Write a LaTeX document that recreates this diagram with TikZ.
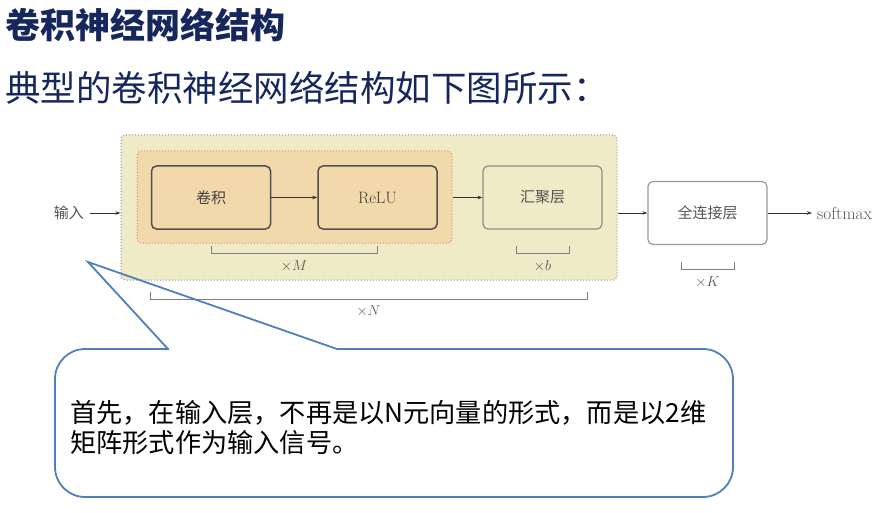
\documentclass[tikz,border=0pt]{standalone}
\usepackage{fontspec}
\newfontfamily\cjk{Noto Sans CJK SC}
\usetikzlibrary{arrows.meta}
\definecolor{navy}{HTML}{16275E}
\definecolor{outerfill}{HTML}{EFEBC6}
\definecolor{outerline}{HTML}{8C90A2}
\definecolor{innerfill}{HTML}{F2D9AB}
\definecolor{innerline}{HTML}{E8866A}
\definecolor{darkline}{HTML}{505050}
\definecolor{midline}{HTML}{8E8E8E}
\definecolor{labelgray}{HTML}{555555}
\definecolor{calloutblue}{HTML}{4F7FBD}
\tikzset{
  group/.style={rounded corners=4pt, dotted, line width=1pt},
  layerbox/.style={rounded corners=5pt, minimum width=119pt, minimum height=63pt, inner sep=0pt, font=\fontsize{16.5}{19}\selectfont, text=labelgray},
  flow/.style={draw=black!80, line width=0.7pt, -{Stealth[length=5pt,width=3.5pt]}},
  bracket/.style={draw=black!50, line width=1pt},
  mult/.style={font=\fontsize{15.5}{18}\selectfont, text=labelgray, inner sep=0pt},
  callout/.style={draw=calloutblue, line width=1.8pt},
}
\begin{document}
\begin{tikzpicture}[x=1pt,y=-1pt]
\useasboundingbox (0,0) rectangle (880,513);
% titles
\node[anchor=west, inner sep=0pt, text=navy, font=\cjk\bfseries\fontsize{35}{40}\selectfont] (title) at (5,25) {卷积神经网络结构};
\node[anchor=west, inner sep=0pt, text=navy, font=\cjk\fontsize{35.5}{40}\selectfont] (subtitle) at (5,88) {典型的卷积神经网络结构如下图所示：};
% groups
\node[group, draw=outerline, fill=outerfill, minimum width=496pt, minimum height=145pt, inner sep=0pt] (outer) at (369,207.5) {};
\node[group, draw=innerline, fill=innerfill, minimum width=315pt, minimum height=92pt, inner sep=0pt] (inner) at (294.5,197) {};
% layers
\node[layerbox, draw=darkline, line width=1.5pt, fill=innerfill, text=black!75, font=\cjk\fontsize{15}{18}\selectfont] (conv) at (211,197.5) {卷积};
\node[layerbox, draw=darkline, line width=1.5pt, fill=innerfill, text=black!75] (relu) at (377.5,197.5) {ReLU};
\node[layerbox, draw=midline, line width=1.2pt, fill=outerfill, font=\cjk\fontsize{15}{18}\selectfont] (pool) at (542.5,197.5) {汇聚层};
\node[layerbox, draw=black!40, line width=1.2pt, fill=white, font=\cjk\fontsize{15}{18}\selectfont] (fc) at (707.5,213) {全连接层};
\node[anchor=east, inner sep=0pt, text=labelgray, font=\cjk\fontsize{15}{18}\selectfont] (in) at (84,213) {输入};
\node[anchor=west, inner sep=0pt, text=labelgray, font=\fontsize{17.3}{20}\selectfont] (out) at (817,213) {softmax};
% arrows
\draw[flow] ([xshift=6pt]in.east) -- (in.east -| outer.west);
\draw[flow] (conv.east) -- (relu.west);
\draw[flow] (relu.east -| inner.east) -- (pool.west);
\draw[flow] (fc.west -| outer.east) -- (fc.west);
\draw[flow] (fc.east) -- ([xshift=-5pt]out.west);
% brackets
\draw[bracket] (211,246) -- (211,253) -- (377,253) -- (377,246);
\node[mult] (m) at (294,266) {$\times M$};
\draw[bracket] (516,246) -- (516,253) -- (569,253) -- (569,246);
\node[mult] (b) at (542.5,266) {$\times b$};
\draw[bracket] (681,262) -- (681,269) -- (734,269) -- (734,262);
\node[mult] (k) at (707.5,282) {$\times K$};
\draw[bracket] (150,292) -- (150,299) -- (587,299) -- (587,292);
\node[mult] (n) at (368.5,311) {$\times N$};
% callout
\draw[callout, fill=white, rounded corners=30pt] (55,349) rectangle (733,497);
\coordinate (tip) at (88,262);
\coordinate (baseL) at (168,349);
\coordinate (baseR) at (337,349);
\draw[white, line width=2.5pt, line cap=butt] ([xshift=1.2pt]baseL) -- ([xshift=-1.2pt]baseR);
\draw[callout, line join=miter] (baseL) -- (tip) -- (baseR);
\node[anchor=west, align=left, inner sep=0pt, font=\cjk\fontsize{26.2}{30}\selectfont] (note) at (70,428) {首先，在输入层，不再是以N元向量的形式，而是以2维\\矩阵形式作为输入信号。};
\end{tikzpicture}
\end{document}
